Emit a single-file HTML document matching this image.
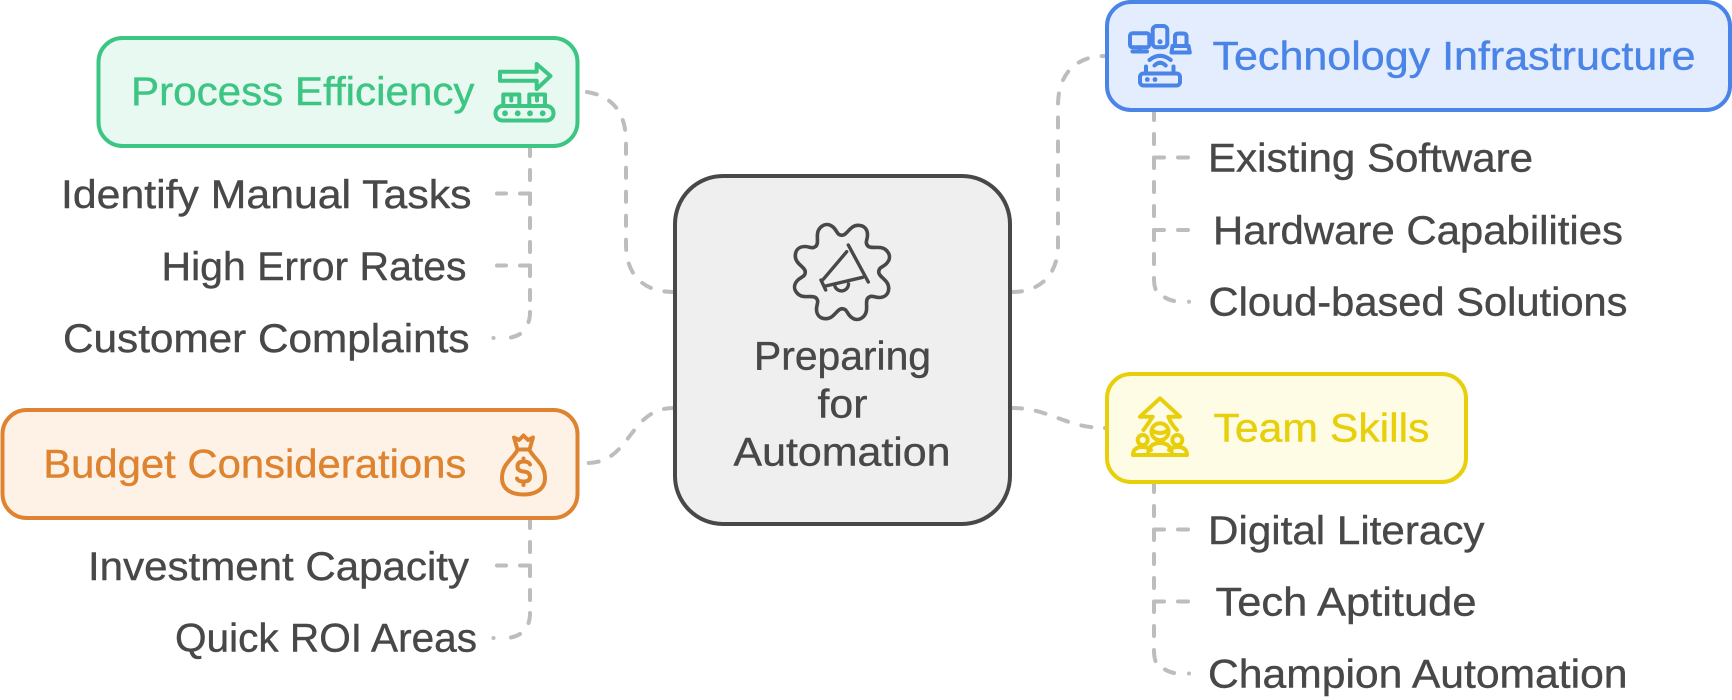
<!DOCTYPE html>
<html>
<head>
<meta charset="utf-8">
<style>
html,body{margin:0;padding:0;background:#fff}
svg{display:block}
text{font-family:"Liberation Sans",sans-serif;font-size:40px;stroke-width:.4}
.n{fill:#484848;stroke:#484848}
.c{fill:none;stroke:#bdbdbd;stroke-width:4;stroke-dasharray:10 14;stroke-linecap:round;stroke-linejoin:round}
.s{fill:none;stroke:#bdbdbd;stroke-width:4;stroke-linecap:round}
.i{fill:none;stroke-width:4;stroke-linecap:round;stroke-linejoin:round}
</style>
</head>
<body>
<svg xmlns="http://www.w3.org/2000/svg" width="1732" height="700" viewBox="0 0 1732 700">
<rect width="1732" height="700" fill="#fff"/>

<!-- main connectors -->
<path class="c" d="M587 92C612 96 626 112 626 142V244C626 274 642 292 674 292"/>
<path class="c" d="M674 408C628 408 632 463 587 463"/>
<path class="c" d="M1012 292C1040 292 1058 275 1058 245V105C1058 75 1075 56 1105 56"/>
<path class="c" d="M1012 408C1050 408 1065 428 1105 428"/>
<circle cx="1105" cy="428" r="2" fill="#bdbdbd"/>

<!-- child connectors -->
<path class="c" d="M530 146V301"/>
<path class="s" d="M530 312Q530 318 528.500 322M520 334Q516 336.500 511 337.500"/>
<circle cx="493.500" cy="338" r="2" fill="#bdbdbd"/>
<path class="c" d="M530 193.500H497"/>
<path class="c" d="M530 265.500H497"/>

<path class="c" d="M530 518V601"/>
<path class="s" d="M530 613Q530 619 528.500 623M520 634Q516 636.500 511 637.500"/>
<circle cx="493.500" cy="638" r="2" fill="#bdbdbd"/>
<path class="c" d="M530 565.500H497"/>

<path class="c" d="M1154 110V265"/>
<path class="s" d="M1154 278Q1154 285 1155.500 289M1165 297.500Q1169 300 1174 301"/>
<circle cx="1189" cy="301.700" r="2" fill="#bdbdbd"/>
<path class="c" d="M1154 157.500H1189"/>
<path class="c" d="M1154 230H1189"/>

<path class="c" d="M1154 482V637"/>
<path class="s" d="M1154 650Q1154 657 1155.500 661M1165 669.500Q1169 672 1174 673"/>
<circle cx="1189" cy="673.500" r="2" fill="#bdbdbd"/>
<path class="c" d="M1154 529.500H1189"/>
<path class="c" d="M1154 601.500H1189"/>

<!-- nodes -->
<rect x="98.500" y="38" width="479" height="108" rx="24" fill="#e8f9f2" stroke="#3cc583" stroke-width="4"/>
<rect x="2.500" y="410" width="575" height="108" rx="24" fill="#fef2e6" stroke="#de8431" stroke-width="4"/>
<rect x="1107" y="2" width="623" height="108" rx="24" fill="#e3edfd" stroke="#4a84e7" stroke-width="4"/>
<rect x="1107" y="374" width="359" height="108" rx="24" fill="#fffce6" stroke="#e8cf0c" stroke-width="4"/>
<rect x="675" y="176" width="335" height="348" rx="48" fill="#efefef" stroke="#484848" stroke-width="4"/>

<!-- labels -->
<text x="131" y="105" fill="#3cc583" stroke="#3cc583" textLength="343.500" lengthAdjust="spacingAndGlyphs">Process Efficiency</text>
<text x="43.300" y="477.500" fill="#de8431" stroke="#de8431" textLength="423" lengthAdjust="spacingAndGlyphs">Budget Considerations</text>
<text x="1212.500" y="69.500" fill="#4a84e7" stroke="#4a84e7" textLength="483" lengthAdjust="spacingAndGlyphs">Technology Infrastructure</text>
<text x="1213.500" y="441.700" fill="#e8cf0c" stroke="#e8cf0c" textLength="216" lengthAdjust="spacingAndGlyphs">Team Skills</text>

<text class="n" x="61" y="208" textLength="410.500" lengthAdjust="spacingAndGlyphs">Identify Manual Tasks</text>
<text class="n" x="161.500" y="280" textLength="305" lengthAdjust="spacingAndGlyphs">High Error Rates</text>
<text class="n" x="63" y="352" textLength="406.500" lengthAdjust="spacingAndGlyphs">Customer Complaints</text>
<text class="n" x="88" y="580" textLength="381" lengthAdjust="spacingAndGlyphs">Investment Capacity</text>
<text class="n" x="175" y="651.700" textLength="302" lengthAdjust="spacingAndGlyphs">Quick ROI Areas</text>
<text class="n" x="1208" y="171.700" textLength="325" lengthAdjust="spacingAndGlyphs">Existing Software</text>
<text class="n" x="1213" y="244" textLength="410" lengthAdjust="spacingAndGlyphs">Hardware Capabilities</text>
<text class="n" x="1208.500" y="315.700" textLength="419" lengthAdjust="spacingAndGlyphs">Cloud-based Solutions</text>
<text class="n" x="1208" y="544" textLength="276.500" lengthAdjust="spacingAndGlyphs">Digital Literacy</text>
<text class="n" x="1215.500" y="615.700" textLength="261" lengthAdjust="spacingAndGlyphs">Tech Aptitude</text>
<text class="n" x="1208" y="687.700" textLength="419.500" lengthAdjust="spacingAndGlyphs">Champion Automation</text>

<text class="n" x="754" y="369.300" textLength="177" lengthAdjust="spacingAndGlyphs">Preparing</text>
<text class="n" x="817.500" y="417.700" textLength="50" lengthAdjust="spacingAndGlyphs">for</text>
<text class="n" x="733.500" y="465.700" textLength="217" lengthAdjust="spacingAndGlyphs">Automation</text>

<!-- gear icon -->
<g transform="translate(842 272)" fill="none" stroke="#484848" stroke-width="3.600" stroke-linecap="round">
<path d="M0 -36.700C5 -36.700 8 -46.700 16 -46.700C22 -46.700 25.500 -43 25.500 -37C25.500 -32 22.500 -29.500 26 -26"/>
<path transform="rotate(45)" d="M0 -36.700C5 -36.700 8 -46.700 16 -46.700C22 -46.700 25.500 -43 25.500 -37C25.500 -32 22.500 -29.500 26 -26"/>
<path transform="rotate(90)" d="M0 -36.700C5 -36.700 8 -46.700 16 -46.700C22 -46.700 25.500 -43 25.500 -37C25.500 -32 22.500 -29.500 26 -26"/>
<path transform="rotate(135)" d="M0 -36.700C5 -36.700 8 -46.700 16 -46.700C22 -46.700 25.500 -43 25.500 -37C25.500 -32 22.500 -29.500 26 -26"/>
<path transform="rotate(180)" d="M0 -36.700C5 -36.700 8 -46.700 16 -46.700C22 -46.700 25.500 -43 25.500 -37C25.500 -32 22.500 -29.500 26 -26"/>
<path transform="rotate(225)" d="M0 -36.700C5 -36.700 8 -46.700 16 -46.700C22 -46.700 25.500 -43 25.500 -37C25.500 -32 22.500 -29.500 26 -26"/>
<path transform="rotate(270)" d="M0 -36.700C5 -36.700 8 -46.700 16 -46.700C22 -46.700 25.500 -43 25.500 -37C25.500 -32 22.500 -29.500 26 -26"/>
<path transform="rotate(315)" d="M0 -36.700C5 -36.700 8 -46.700 16 -46.700C22 -46.700 25.500 -43 25.500 -37C25.500 -32 22.500 -29.500 26 -26"/>
</g>
<g fill="none" stroke="#484848" stroke-width="3.400" stroke-linecap="round" stroke-linejoin="round">
<path d="M848.300 245L868.300 282"/>
<path d="M846.700 251.700L823.300 279.300"/>
<path d="M825.700 286L862.700 277.300"/>
<path d="M821 280L825.700 290"/>
<path d="M835 286.500A7 7 0 0 0 848.500 284"/>
</g>

<!-- process icon -->
<g class="i" stroke="#3cc583">
<path d="M500 71.700H536.700V64L550.500 76L536.700 89V80.700H500Z"/>
<path d="M503.300 106V94.500H519.300V106M511.300 94.500V100.500"/>
<path d="M529.300 106V94.500H545V106M537 94.500V100.500"/>
<rect x="495.500" y="106" width="58" height="14.500" rx="7"/>
</g>
<g fill="#3cc583"><circle cx="505" cy="113.300" r="2.900"/><circle cx="517.700" cy="113.300" r="2.900"/><circle cx="530" cy="113.300" r="2.900"/><circle cx="542.700" cy="113.300" r="2.900"/></g>

<!-- tech icon -->
<g class="i" stroke="#4a84e7">
<rect x="1130" y="33.300" width="19.300" height="14" rx="2.500"/>
<path d="M1139.500 47.300V51M1132.500 51.500H1147"/>
<rect x="1152.700" y="26" width="14.600" height="21.300" rx="4"/>
<path d="M1175 46V36.500Q1175 33.500 1178.500 33.500H1183Q1186.500 33.500 1186.500 36.500V46"/>
<path d="M1172.500 46H1188.500L1189.800 52.500H1171.500Z"/>
<path d="M1149.500 60Q1160 51.700 1170.700 60M1154.500 65.500Q1160 60 1165.700 65.500"/>
<rect x="1140" y="73.500" width="40" height="12" rx="3.500"/>
<path d="M1146 66.500V73M1173.500 66.500V73"/>
</g>
<g fill="#4a84e7"><circle cx="1160" cy="41.700" r="2.500"/><circle cx="1147.300" cy="79.500" r="2.400"/><circle cx="1155" cy="79.500" r="2.400"/></g>

<!-- team icon -->
<g class="i" stroke="#e8cf0c">
<path d="M1143.500 430Q1148 424 1152.700 416.700H1140L1160 398.300L1180 416.700H1168.300Q1171 424 1177 430"/>
<circle cx="1160" cy="431.700" r="8.500"/>
<path d="M1153 431Q1160 435 1167 431"/>
<circle cx="1142.700" cy="440" r="5"/>
<circle cx="1177.300" cy="440" r="5"/>
<path d="M1133 455H1187"/>
<path d="M1148 454Q1149 443 1160 443Q1171 443 1172 454"/>
<path d="M1133 454Q1134 447 1142 447Q1148 447 1151 450"/>
<path d="M1187 454Q1186 447 1178 447Q1172 447 1169 450"/>
</g>

<!-- budget icon -->
<g class="i" stroke="#de8431">
<path d="M517.500 449.500L514 437.500L519 440L523.500 435.500L528 440L533 437.500L529.500 449.500Z"/>
<path d="M517.500 450C512 460 502 464 502 478C502 489 511 494.500 523.500 494.500C536 494.500 545 489 545 478C545 464 535 460 529.500 450"/>
<path d="M530 464.500Q529 461.500 523.500 461.500Q517.500 461.500 517.500 466.500Q517.500 471 523.500 471.500Q530 472 530 477Q530 481.500 523.500 481.500Q518 481.500 517 478.500M523.500 458.500V461.500M523.500 481.500V485"/>
</g>
</svg>
</body>
</html>
